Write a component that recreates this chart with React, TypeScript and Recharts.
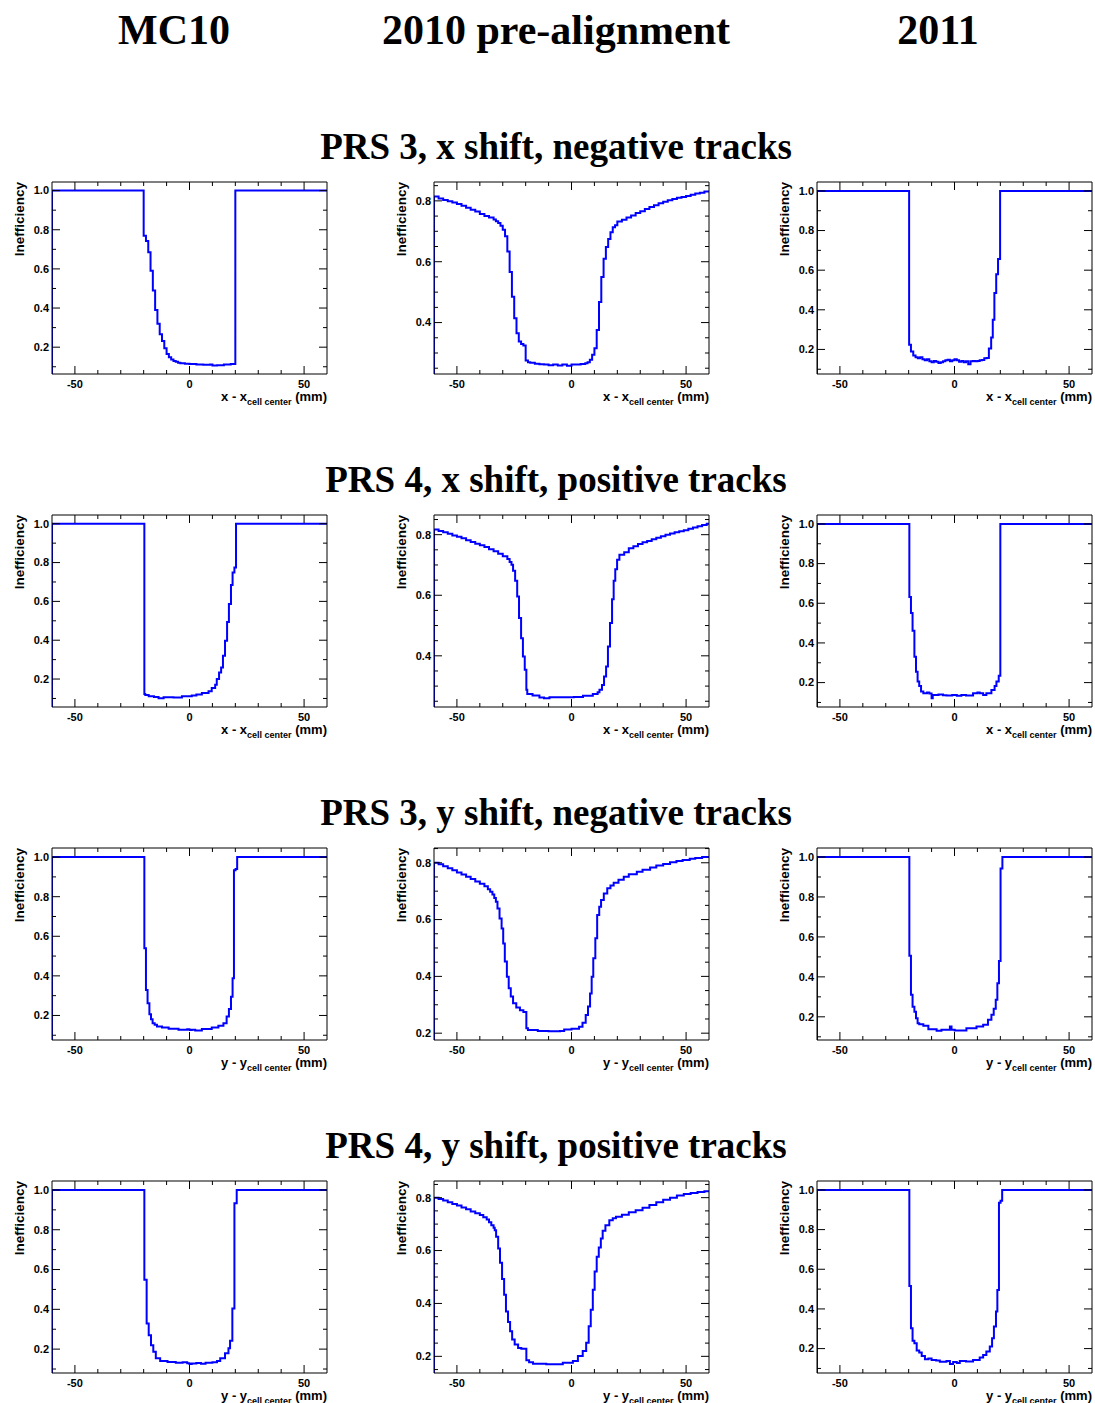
import React from 'react';
import { LineChart, Line, XAxis, YAxis } from 'recharts';

type Pt = [number, number];

// [lower bin edge (mm), inefficiency] — step histograms

// PRS 3, x shift, negative tracks
const mc10Prs3X: Pt[] = [
  [-60, 1.0], [-20, 0.77], [-19, 0.743], [-18, 0.685], [-17, 0.59], [-16, 0.49], [-15, 0.39], [-14, 0.32],
  [-13, 0.266], [-12, 0.232], [-11, 0.195], [-10, 0.165], [-9, 0.148], [-8, 0.137], [-7, 0.13], [-6, 0.125],
  [-5, 0.121], [-4, 0.118], [-2, 0.116], [0, 0.114], [3, 0.112], [6, 0.11], [9, 0.112], [10, 0.107],
  [12, 0.108], [15, 0.111], [18, 0.114], [20, 1.0],
];
const pre2010Prs3X: Pt[] = [
  [-60, 0.814], [-58, 0.808], [-56, 0.803], [-54, 0.799], [-52, 0.795], [-50, 0.79], [-48, 0.784], [-46, 0.777],
  [-44, 0.771], [-42, 0.765], [-40, 0.757], [-38, 0.75], [-36, 0.745], [-34, 0.739], [-33, 0.733], [-32, 0.727],
  [-31, 0.718], [-30, 0.705], [-29, 0.684], [-28, 0.634], [-27, 0.566], [-26, 0.485], [-25, 0.414], [-24, 0.365],
  [-23, 0.338], [-22, 0.33], [-21, 0.325], [-20, 0.275], [-19, 0.27], [-18, 0.268], [-16, 0.265], [-14, 0.263],
  [-12, 0.262], [-10, 0.26], [-8, 0.262], [-6, 0.259], [-4, 0.262], [-2, 0.258], [0, 0.262], [2, 0.262],
  [4, 0.264], [6, 0.266], [7, 0.27], [8, 0.278], [9, 0.294], [10, 0.316], [11, 0.376], [12, 0.468],
  [13, 0.55], [14, 0.61], [15, 0.648], [16, 0.675], [17, 0.697], [18, 0.713], [19, 0.72], [20, 0.732],
  [22, 0.738], [24, 0.745], [26, 0.752], [28, 0.76], [30, 0.766], [32, 0.773], [34, 0.78], [36, 0.786],
  [38, 0.792], [40, 0.797], [42, 0.802], [44, 0.806], [46, 0.81], [48, 0.813], [50, 0.816], [52, 0.82],
  [54, 0.824], [56, 0.827], [58, 0.831],
];
const y2011Prs3X: Pt[] = [
  [-60, 1.0], [-19.8, 0.223], [-19, 0.19], [-18, 0.17], [-17, 0.16], [-16, 0.155], [-15, 0.16], [-14, 0.15],
  [-13, 0.145], [-12, 0.15], [-11, 0.14], [-10, 0.135], [-9, 0.142], [-8, 0.138], [-7, 0.132], [-6, 0.135],
  [-5, 0.14], [-4, 0.145], [-3, 0.148], [-2, 0.14], [-1, 0.145], [0, 0.15], [1, 0.145], [2, 0.138],
  [3, 0.142], [4, 0.135], [5, 0.14], [6, 0.125], [7, 0.14], [8, 0.142], [9, 0.14], [10, 0.142],
  [11, 0.145], [12, 0.147], [13, 0.155], [14, 0.157], [15, 0.205], [16, 0.26], [16.7, 0.35], [17.4, 0.485],
  [18.2, 0.58], [19, 0.656], [19.9, 1.0],
];

// PRS 4, x shift, positive tracks
const mc10Prs4X: Pt[] = [
  [-60, 1.0], [-19.7, 0.123], [-19.3, 0.118], [-17.8, 0.111], [-15.5, 0.107], [-13.5, 0.101], [-11.3, 0.106],
  [-7, 0.105], [-3.3, 0.111], [1, 0.115], [3, 0.12], [5.4, 0.128], [8.3, 0.137], [9.7, 0.154], [11.2, 0.171],
  [11.9, 0.2], [12.9, 0.234], [13.8, 0.26], [14.6, 0.32], [15.5, 0.397], [16.4, 0.494], [17.2, 0.586],
  [18.1, 0.685], [18.8, 0.749], [19.6, 0.774], [20.3, 1.0],
];
const pre2010Prs4X: Pt[] = [
  [-60, 0.817], [-58, 0.812], [-56, 0.808], [-54, 0.803], [-52, 0.797], [-50, 0.793], [-48, 0.788], [-46, 0.782],
  [-44, 0.776], [-42, 0.77], [-40, 0.765], [-38, 0.759], [-36, 0.752], [-34, 0.745], [-32, 0.737], [-30, 0.729],
  [-28, 0.72], [-27, 0.71], [-26.2, 0.701], [-25.5, 0.681], [-24.6, 0.648], [-23.7, 0.596], [-22.9, 0.525],
  [-22, 0.458], [-21.2, 0.398], [-20.4, 0.354], [-19.7, 0.288], [-19.3, 0.274], [-17, 0.269], [-14, 0.262],
  [-12, 0.26], [-9.6, 0.263], [-4, 0.263], [1, 0.264], [5, 0.268], [9.3, 0.274], [11.4, 0.28], [12.2, 0.288],
  [13.3, 0.304], [14.2, 0.332], [15.1, 0.365], [15.9, 0.431], [16.8, 0.508], [17.7, 0.587], [18.4, 0.648],
  [19.1, 0.686], [19.9, 0.717], [20.9, 0.734], [23, 0.742], [25, 0.755], [27, 0.762], [29, 0.769], [31, 0.775],
  [33, 0.779], [35, 0.785], [37, 0.79], [39, 0.795], [41, 0.8], [43, 0.804], [45, 0.808], [47, 0.811],
  [49, 0.815], [51, 0.82], [53, 0.824], [55, 0.828], [57, 0.832], [59, 0.836],
];
const y2011Prs4X: Pt[] = [
  [-60, 1.0], [-19.7, 0.632], [-19, 0.551], [-18.3, 0.461], [-17.5, 0.33], [-16.8, 0.255], [-16.1, 0.205],
  [-15.4, 0.183], [-14.6, 0.155], [-13.6, 0.146], [-12, 0.15], [-11, 0.145], [-10, 0.121], [-9.5, 0.138],
  [-7, 0.14], [-5, 0.136], [-3.5, 0.135], [-1, 0.138], [1, 0.134], [3, 0.138], [5, 0.135], [8.1, 0.146],
  [10, 0.15], [11, 0.146], [12.5, 0.138], [13.9, 0.146], [16.1, 0.163], [17.5, 0.183], [18.3, 0.205],
  [19.3, 0.235], [20, 1.0],
];

// PRS 3, y shift, negative tracks
const mc10Prs3Y: Pt[] = [
  [-60, 1.0], [-19.7, 0.539], [-19, 0.329], [-18.3, 0.262], [-17.5, 0.206], [-16.8, 0.181], [-16.1, 0.161],
  [-15.2, 0.153], [-14.2, 0.144], [-12, 0.139], [-9.1, 0.133], [-4.8, 0.128], [-1, 0.13], [0, 0.126],
  [1, 0.128], [2.5, 0.124], [5.4, 0.131], [9.7, 0.139], [12.6, 0.148], [14.8, 0.161], [16.2, 0.195],
  [17.2, 0.232], [18.1, 0.295], [18.8, 0.388], [19.4, 0.933], [20.1, 0.94], [20.8, 1.0],
];
const pre2010Prs3Y: Pt[] = [
  [-60, 0.8], [-58, 0.795], [-56, 0.788], [-54, 0.781], [-52, 0.774], [-50, 0.766], [-48, 0.759], [-46, 0.751],
  [-44, 0.743], [-42, 0.734], [-40, 0.726], [-38, 0.717], [-36.5, 0.707], [-35.5, 0.698], [-34.5, 0.688],
  [-33.7, 0.676], [-33, 0.663], [-32.3, 0.639], [-31.4, 0.604], [-30.5, 0.569], [-29.8, 0.516], [-29.1, 0.452],
  [-28.2, 0.399], [-27.4, 0.358], [-26.5, 0.329], [-25.5, 0.305], [-24.1, 0.29], [-22.5, 0.281], [-21, 0.275],
  [-19.7, 0.217], [-19, 0.211], [-14.7, 0.208], [-10, 0.207], [-5, 0.208], [-3.2, 0.213], [0, 0.216],
  [3.3, 0.223], [4.8, 0.237], [6.2, 0.264], [7.2, 0.294], [8.1, 0.34], [8.8, 0.399], [9.5, 0.464],
  [10.4, 0.534], [11.2, 0.616], [12.1, 0.645], [12.9, 0.669], [14.1, 0.692], [15.6, 0.71], [17, 0.72],
  [18.4, 0.73], [20.5, 0.74], [22.8, 0.751], [25, 0.76], [28.5, 0.768], [31, 0.775], [34.3, 0.783],
  [37, 0.79], [40, 0.796], [43, 0.802], [45.8, 0.806], [48.5, 0.81], [51.6, 0.814], [54, 0.817], [57, 0.82],
];
const y2011Prs3Y: Pt[] = [
  [-60, 1.0], [-19.7, 0.506], [-19, 0.31], [-18.3, 0.251], [-17.5, 0.226], [-16.8, 0.193], [-16.1, 0.168],
  [-15.4, 0.163], [-13.6, 0.155], [-11.4, 0.138], [-7.8, 0.13], [-5.7, 0.135], [-2, 0.151], [-1.3, 0.135],
  [0.1, 0.131], [5.2, 0.143], [9.6, 0.151], [12.5, 0.16], [14.6, 0.185], [16.1, 0.21], [17.1, 0.24],
  [18, 0.285], [18.7, 0.368], [19.4, 0.48], [20.1, 0.942], [20.9, 1.0],
];

// PRS 4, y shift, positive tracks
const mc10Prs4Y: Pt[] = [
  [-60, 1.0], [-19.7, 0.549], [-18.7, 0.329], [-17.8, 0.27], [-16.8, 0.22], [-15.8, 0.187], [-14.7, 0.154],
  [-12.8, 0.14], [-9.6, 0.135], [-6, 0.132], [-3, 0.134], [-1, 0.129], [0, 0.125], [1, 0.128], [3, 0.13],
  [5, 0.127], [7, 0.131], [10, 0.134], [12, 0.14], [13.4, 0.154], [15.5, 0.179], [17, 0.204], [17.7, 0.242],
  [18.7, 0.404], [19.6, 0.933], [20.6, 1.0],
];
const pre2010Prs4Y: Pt[] = [
  [-60, 0.8], [-58, 0.795], [-56, 0.789], [-54, 0.783], [-52, 0.776], [-50, 0.77], [-48, 0.763], [-46, 0.756],
  [-44, 0.748], [-42, 0.741], [-40, 0.734], [-38.5, 0.726], [-37, 0.717], [-36, 0.707], [-35, 0.696],
  [-34, 0.686], [-33.5, 0.677], [-32.9, 0.652], [-32, 0.608], [-31.2, 0.554], [-30.3, 0.492], [-29.4, 0.433],
  [-28.6, 0.37], [-27.7, 0.33], [-26.8, 0.295], [-25.9, 0.264], [-24.8, 0.245], [-23.3, 0.232], [-21.9, 0.229],
  [-19.7, 0.185], [-18.5, 0.178], [-16.8, 0.172], [-11, 0.17], [-3.8, 0.176], [0.6, 0.182], [2.8, 0.201],
  [4.9, 0.22], [6.4, 0.251], [7.5, 0.314], [8.4, 0.376], [9.3, 0.452], [10.1, 0.521], [11, 0.577],
  [11.9, 0.612], [12.8, 0.646], [13.6, 0.675], [14.8, 0.696], [16.5, 0.715], [18, 0.722], [19.4, 0.728],
  [22, 0.735], [25, 0.745], [28, 0.752], [31, 0.762], [34, 0.772], [37, 0.783], [40, 0.792], [43, 0.8],
  [46, 0.808], [49, 0.814], [52, 0.818], [55, 0.821], [58, 0.824],
];
const y2011Prs4Y: Pt[] = [
  [-60, 1.0], [-19.7, 0.516], [-19, 0.303], [-18.3, 0.24], [-17.5, 0.227], [-16.5, 0.19], [-15.4, 0.18],
  [-14.3, 0.163], [-12.9, 0.146], [-11.4, 0.15], [-10, 0.143], [-8, 0.14], [-6.4, 0.134], [-3.5, 0.138],
  [-2, 0.123], [-0.6, 0.133], [1, 0.128], [2.3, 0.138], [5, 0.135], [8.1, 0.143], [11, 0.155], [12.5, 0.168],
  [13.9, 0.185], [15.4, 0.21], [16.4, 0.252], [17.2, 0.311], [18.1, 0.387], [18.7, 0.496], [19.4, 0.935],
  [20.1, 0.945], [20.8, 1.0],
];

const COLUMN_TITLES = ['MC10', '2010 pre-alignment', '2011'];
const ROW_TITLES = [
  'PRS 3, x shift, negative tracks',
  'PRS 4, x shift, positive tracks',
  'PRS 3, y shift, negative tracks',
  'PRS 4, y shift, positive tracks',
];
const ROW_VAR = ['x', 'x', 'y', 'y'];

const X_MAJOR = [-50, 0, 50];
const X_MINOR = [-40, -30, -20, -10, 10, 20, 30, 40];
const Y_MAJOR_FULL = [0.2, 0.4, 0.6, 0.8, 1.0];
const Y_MINOR_FULL = [0.1, 0.3, 0.5, 0.7, 0.9];
const Y_MAJOR_MID = [0.2, 0.4, 0.6, 0.8];
const Y_MINOR_MID = [0.15, 0.25, 0.3, 0.35, 0.45, 0.5, 0.55, 0.65, 0.7, 0.75, 0.85];

const PANELS = [
  [
    { data: mc10Prs3X, yDomain: [0.063, 1.044] },
    { data: pre2010Prs3X, yDomain: [0.231, 0.862] },
    { data: y2011Prs3X, yDomain: [0.076, 1.045] },
  ],
  [
    { data: mc10Prs4X, yDomain: [0.056, 1.045] },
    { data: pre2010Prs4X, yDomain: [0.231, 0.865] },
    { data: y2011Prs4X, yDomain: [0.077, 1.045] },
  ],
  [
    { data: mc10Prs3Y, yDomain: [0.076, 1.046] },
    { data: pre2010Prs3Y, yDomain: [0.176, 0.852] },
    { data: y2011Prs3Y, yDomain: [0.084, 1.045] },
  ],
  [
    { data: mc10Prs4Y, yDomain: [0.08, 1.045] },
    { data: pre2010Prs4Y, yDomain: [0.137, 0.863] },
    { data: y2011Prs4Y, yDomain: [0.077, 1.045] },
  ],
];

// layout (page pixels)
const COL_LEFT = [52, 434, 817];
const ROW_TOP = [182, 515, 848, 1181];
const HEADER_X = [174, 556, 938];
const FRAME_W = 275;
const FRAME_H = 192;
const PAD_L = 50;
const PAD_R = 5;
const PAD_T = 5;
const PAD_B = 30;

const SANS = '"Liberation Sans", Arial, Helvetica, sans-serif';
const SERIF = '"Liberation Serif", "Times New Roman", serif';

const has = (arr: number[], v: number) => arr.some((a) => Math.abs(a - v) < 1e-6);

const XTick = (props: any) => {
  const { x, y, payload, side } = props;
  const major = has(X_MAJOR, payload.value);
  const len = major ? 8 : 4;
  const dir = side === 'bottom' ? -1 : 1;
  return (
    <g>
      <line x1={x} y1={y} x2={x} y2={y + dir * len} stroke="#000" strokeWidth={1} />
      {side === 'bottom' && major && (
        <text x={x} y={y + 14} textAnchor="middle" fontSize={11} fontWeight="bold" fontFamily={SANS} fill="#000">
          {payload.value}
        </text>
      )}
    </g>
  );
};

const YTick = (props: any) => {
  const { x, y, payload, side, majors } = props;
  const major = has(majors, payload.value);
  const len = major ? 8 : 4;
  const dir = side === 'left' ? 1 : -1;
  return (
    <g>
      <line x1={x} y1={y} x2={x + dir * len} y2={y} stroke="#000" strokeWidth={1} />
      {side === 'left' && major && (
        <text x={x - 3} y={y} dy="0.35em" textAnchor="end" fontSize={11} fontWeight="bold" fontFamily={SANS} fill="#000">
          {payload.value.toFixed(1)}
        </text>
      )}
    </g>
  );
};

function Panel({ data, yDomain, left, top, mid }: { data: Pt[]; yDomain: number[]; left: number; top: number; mid: boolean }) {
  // histogram starts from zero at the lower edge, like ROOT draws it
  const rows = [
    { x: -60, y: 0 },
    ...data.map(([x, y]) => ({ x, y })),
    { x: 60, y: data[data.length - 1][1] },
  ];
  const inRange = (v: number) => v >= yDomain[0] && v <= yDomain[1];
  const yMajor = (mid ? Y_MAJOR_MID : Y_MAJOR_FULL).filter(inRange);
  const yMinor = (mid ? Y_MINOR_MID : Y_MINOR_FULL).filter(inRange);
  const yTicks = [...yMajor, ...yMinor].sort((a, b) => a - b);
  const xTicks = [...X_MAJOR, ...X_MINOR].sort((a, b) => a - b);
  const frame = { stroke: '#000', strokeWidth: 1 };

  return (
    <div style={{ position: 'absolute', left: left - PAD_L, top: top - PAD_T }}>
      <LineChart
        width={FRAME_W + PAD_L + PAD_R}
        height={FRAME_H + PAD_T + PAD_B}
        data={rows}
        margin={{ top: 0, right: 0, bottom: 0, left: 0 }}
      >
        <XAxis
          xAxisId="b" dataKey="x" type="number" domain={[-60, 60]} allowDataOverflow
          orientation="bottom" height={PAD_B} ticks={xTicks} interval={0}
          tickSize={0} tickMargin={0} tickLine={false} axisLine={frame}
          tick={(p: any) => <XTick {...p} side="bottom" />}
        />
        <XAxis
          xAxisId="t" dataKey="x" type="number" domain={[-60, 60]} allowDataOverflow
          orientation="top" height={PAD_T} ticks={xTicks} interval={0}
          tickSize={0} tickMargin={0} tickLine={false} axisLine={frame}
          tick={(p: any) => <XTick {...p} side="top" />}
        />
        <YAxis
          yAxisId="l" type="number" domain={yDomain} allowDataOverflow
          orientation="left" width={PAD_L} ticks={yTicks} interval={0}
          tickSize={0} tickMargin={0} tickLine={false} axisLine={frame}
          tick={(p: any) => <YTick {...p} side="left" majors={yMajor} />}
        />
        <YAxis
          yAxisId="r" type="number" domain={yDomain} allowDataOverflow
          orientation="right" width={PAD_R} ticks={yTicks} interval={0}
          tickSize={0} tickMargin={0} tickLine={false} axisLine={frame}
          tick={(p: any) => <YTick {...p} side="right" majors={yMajor} />}
        />
        <Line
          xAxisId="b" yAxisId="l" dataKey="y" type="stepAfter"
          stroke="#0000ff" strokeWidth={2} dot={false} activeDot={false}
          isAnimationActive={false}
        />
      </LineChart>
    </div>
  );
}

export default function App() {
  return (
    <div style={{ position: 'absolute', left: 0, top: 0, width: 1095, height: 1403, background: '#fff', overflow: 'hidden' }}>
      {PANELS.map((row, r) =>
        row.map((p, c) => (
          <Panel key={`${r}-${c}`} data={p.data} yDomain={p.yDomain} left={COL_LEFT[c]} top={ROW_TOP[r]} mid={c === 1} />
        ))
      )}
      <svg width={1095} height={1403} style={{ position: 'absolute', left: 0, top: 0, pointerEvents: 'none' }}>
        {COLUMN_TITLES.map((t, i) => (
          <text key={t} x={HEADER_X[i]} y={44} textAnchor="middle" fontFamily={SERIF} fontWeight="bold" fontSize={42} fill="#000">
            {t}
          </text>
        ))}
        {ROW_TITLES.map((t, r) => (
          <text key={t} x={556} y={ROW_TOP[r] - 23} textAnchor="middle" fontFamily={SERIF} fontWeight="bold" fontSize={37} fill="#000">
            {t}
          </text>
        ))}
        {ROW_TOP.map((top, r) =>
          COL_LEFT.map((left, c) => (
            <g key={`t-${r}-${c}`} fontFamily={SANS} fontWeight="bold" fill="#000">
              <text
                x={left - 28} y={top} textAnchor="end" fontSize={13.5}
                transform={`rotate(-90 ${left - 28} ${top})`}
              >
                Inefficiency
              </text>
              <text x={left + FRAME_W} y={top + FRAME_H + 27} textAnchor="end" fontSize={13}>
                {`${ROW_VAR[r]} - ${ROW_VAR[r]}`}
                <tspan fontSize={9} dy={4}>cell center</tspan>
                <tspan dy={-4}>{'\u00a0(mm)'}</tspan>
              </text>
            </g>
          ))
        )}
      </svg>
    </div>
  );
}
